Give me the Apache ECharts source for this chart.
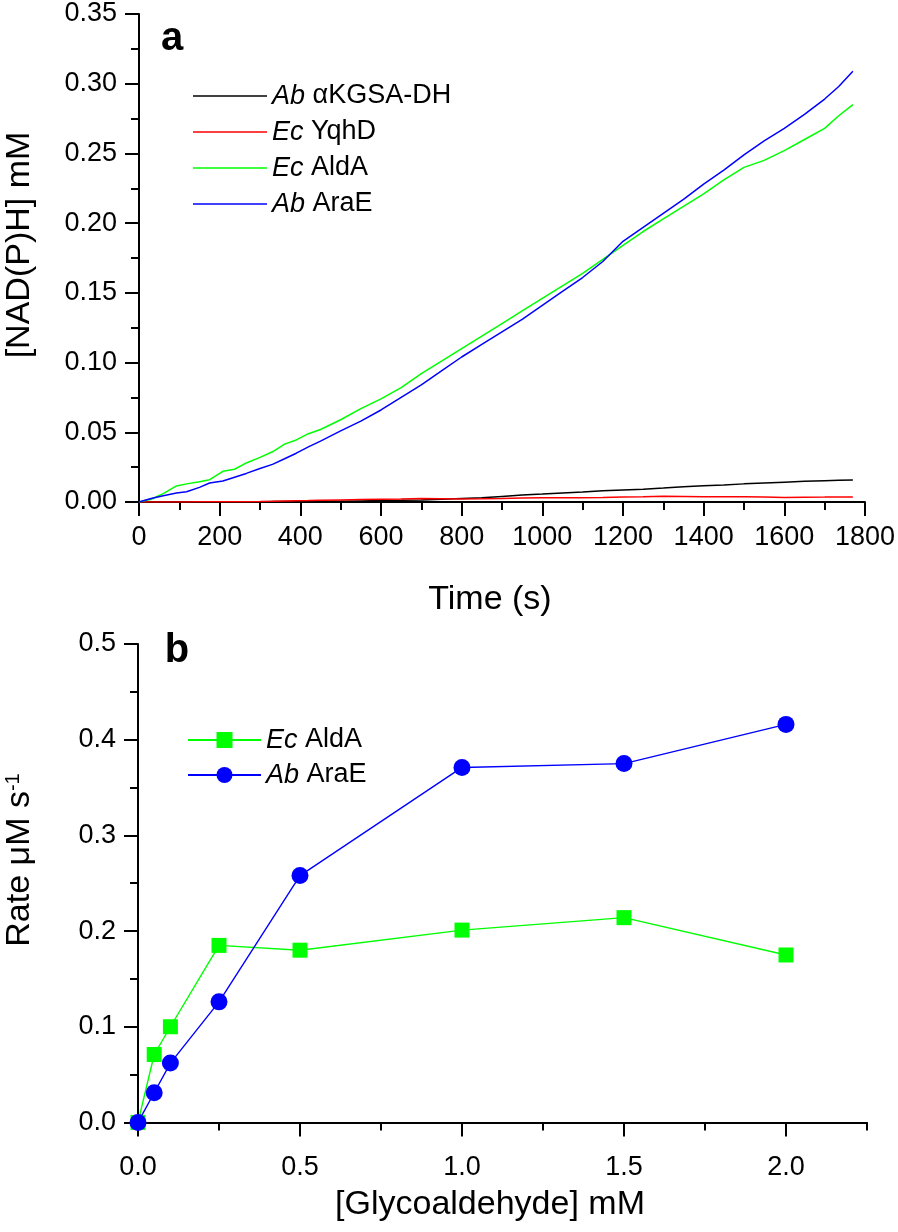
<!DOCTYPE html>
<html>
<head>
<meta charset="utf-8">
<script src="https://cdn.jsdelivr.net/npm/echarts@6/dist/echarts.min.js"></script>
<style>
html,body{margin:0;padding:0;background:#fff;}
#c{width:898px;height:1232px;}
</style>
</head>
<body>
<div id="c"></div>
<script>
// ---------- Panel a: time course ----------
const timeS = [0,30,60,93,118,150,175,208,237,266,300,331,361,390,420,450,500,550,600,650,700,750,800,850,900,950,1000,1050,1100,1150,1200,1250,1300,1350,1400,1450,1500,1550,1600,1650,1700,1735,1770];
const abKGSA = [0,0,0,0,0,0,0.0001,0.0001,0.0002,0.0002,0.0002,0.0003,0.0003,0.0004,0.0004,0.0005,0.0006,0.0008,0.001,0.0012,0.0015,0.002,0.0025,0.003,0.004,0.005,0.0057,0.0065,0.0072,0.008,0.0086,0.0092,0.010,0.011,0.0117,0.0122,0.013,0.0136,0.0142,0.0148,0.0153,0.0156,0.0158];
const ecYqhD = [0,0,0,0,0,0.0001,0.0001,0.0002,0.0002,0.0002,0.0003,0.0005,0.0007,0.0009,0.001,0.0012,0.0015,0.0018,0.002,0.0022,0.0025,0.0024,0.0022,0.0023,0.0025,0.0028,0.003,0.003,0.003,0.0032,0.0035,0.0038,0.0042,0.004,0.0038,0.0037,0.0037,0.0035,0.0033,0.0034,0.0035,0.0036,0.0035];
const ecAldA = [0,0.002,0.006,0.0115,0.013,0.0145,0.016,0.022,0.0235,0.028,0.032,0.036,0.0415,0.0445,0.049,0.052,0.059,0.067,0.074,0.082,0.092,0.101,0.110,0.119,0.128,0.137,0.146,0.155,0.164,0.174,0.184,0.194,0.203,0.212,0.221,0.231,0.240,0.245,0.252,0.260,0.268,0.277,0.285];
const abAraE = [0,0.0025,0.0045,0.0064,0.0073,0.0105,0.0136,0.015,0.0178,0.0205,0.024,0.027,0.031,0.035,0.0395,0.0437,0.051,0.058,0.066,0.075,0.084,0.094,0.104,0.113,0.122,0.131,0.141,0.151,0.161,0.1725,0.187,0.197,0.207,0.217,0.228,0.238,0.249,0.259,0.268,0.278,0.289,0.298,0.309];
const namesA = ['Ab αKGSA-DH','Ec YqhD','Ec AldA','Ab AraE'];
const colorsA = ['#000000','#ff0000','#00ff00','#0000ff'];

// ---------- Panel b: rate vs concentration ----------
const glyco = [0,0.05,0.1,0.25,0.5,1.0,1.5,2.0];
const rateAldA = [0,0.071,0.100,0.185,0.180,0.201,0.214,0.175];
const rateAraE = [0,0.031,0.062,0.126,0.258,0.371,0.375,0.416];
const namesB = ['Ec AldA ','Ab AraE '];

// tick labels
const xTicksB = [0,0.5,1.0,1.5,2.0];
const xMinorB = [0.25,0.75,1.25,1.75,2.25];
const yTicksB = [0,0.1,0.2,0.3,0.4,0.5];
const yMinorB = [0.05,0.15,0.25,0.35,0.45];

const FF = '"Liberation Sans", Arial, sans-serif';
const pairs = (xs, ys) => xs.map((x,i)=>[x, ys[i]]);
const legendFmt = name => { const n = name.trim(); const k = n.indexOf(' '); return '{i|' + n.slice(0,k) + '}' + n.slice(k); };

const axisCommon = {
  axisLine:{show:true,lineStyle:{color:'#000',width:2}},
  axisTick:{show:true,inside:false,length:14,lineStyle:{color:'#000',width:2}},
  axisLabel:{color:'#000',fontSize:27,fontFamily:FF,margin:22},
  splitLine:{show:false}
};

const chart = echarts.init(document.getElementById('c'));
chart.setOption({
  animation:false,
  backgroundColor:'#fff',
  grid:[
    {left:139, top:14, width:728, height:488},
    {left:138, top:644, width:729, height:488}
  ],
  xAxis:[
    Object.assign({}, axisCommon, {
      gridIndex:0, type:'value', min:0, max:1800, interval:200, position:'bottom',
      minorTick:{show:true, splitNumber:2, length:8, lineStyle:{color:'#000',width:2}},
      axisLabel:Object.assign({}, axisCommon.axisLabel, {showMaxLabel:true, showMinLabel:true, formatter:v=>String(Math.round(v))})
    }),
    Object.assign({}, axisCommon, {
      gridIndex:1, type:'value', min:0, max:2.25, position:'bottom',
      axisTick:Object.assign({}, axisCommon.axisTick, {customValues:xTicksB}),
      axisLabel:Object.assign({}, axisCommon.axisLabel, {customValues:xTicksB, formatter:v=>v.toFixed(1)})
    }),
    {
      gridIndex:1, type:'value', min:0, max:2.25, position:'bottom',
      axisLine:{show:false},
      axisTick:{show:true, length:8, customValues:xMinorB, lineStyle:{color:'#000',width:2}},
      axisLabel:{show:false}, splitLine:{show:false}
    }
  ],
  yAxis:[
    Object.assign({}, axisCommon, {
      gridIndex:0, type:'value', min:0, max:0.35, interval:0.05, position:'left',
      minorTick:{show:true, splitNumber:2, length:8, lineStyle:{color:'#000',width:2}},
      axisLabel:Object.assign({}, axisCommon.axisLabel, {formatter:v=>v.toFixed(2)})
    }),
    Object.assign({}, axisCommon, {
      gridIndex:1, type:'value', min:-0.01, max:0.5, position:'left',
      axisTick:Object.assign({}, axisCommon.axisTick, {customValues:yTicksB}),
      axisLabel:Object.assign({}, axisCommon.axisLabel, {customValues:yTicksB, formatter:v=>v.toFixed(1)})
    }),
    {
      gridIndex:1, type:'value', min:-0.01, max:0.5, position:'left',
      axisLine:{show:false},
      axisTick:{show:true, length:8, customValues:yMinorB, lineStyle:{color:'#000',width:2}},
      axisLabel:{show:false}, splitLine:{show:false}
    }
  ],
  legend:[
    {
      data:namesA, orient:'vertical', left:188, top:76, itemGap:6,
      icon:'rect', itemWidth:74, itemHeight:1.6,
      formatter:legendFmt,
      textStyle:{color:'#000', fontSize:27, fontFamily:FF, lineHeight:30,
        rich:{i:{fontStyle:'italic', fontSize:27, fontFamily:FF, color:'#000', lineHeight:30}}}
    },
    {
      data:namesB, orient:'vertical', left:182, top:720, itemGap:5,
      itemWidth:73, itemHeight:20,
      formatter:legendFmt,
      textStyle:{color:'#000', fontSize:27, fontFamily:FF, lineHeight:30,
        rich:{i:{fontStyle:'italic', fontSize:27, fontFamily:FF, color:'#000', lineHeight:30}}}
    }
  ],
  series:[
    {name:namesA[0], type:'line', xAxisIndex:0, yAxisIndex:0, data:pairs(timeS, abKGSA), showSymbol:false, symbol:'none', lineStyle:{color:colorsA[0], width:1.5}, itemStyle:{color:colorsA[0]}},
    {name:namesA[1], type:'line', xAxisIndex:0, yAxisIndex:0, data:pairs(timeS, ecYqhD), showSymbol:false, symbol:'none', lineStyle:{color:colorsA[1], width:1.5}, itemStyle:{color:colorsA[1]}},
    {name:namesA[2], type:'line', xAxisIndex:0, yAxisIndex:0, data:pairs(timeS, ecAldA), showSymbol:false, symbol:'none', lineStyle:{color:colorsA[2], width:1.5}, itemStyle:{color:colorsA[2]}},
    {name:namesA[3], type:'line', xAxisIndex:0, yAxisIndex:0, data:pairs(timeS, abAraE), showSymbol:false, symbol:'none', lineStyle:{color:colorsA[3], width:1.5}, itemStyle:{color:colorsA[3]}},
    {name:namesB[0], type:'line', xAxisIndex:1, yAxisIndex:1, data:pairs(glyco, rateAldA), symbol:'rect', symbolSize:15, lineStyle:{color:'#00ff00', width:1.4}, itemStyle:{color:'#00ff00'}},
    {name:namesB[1], type:'line', xAxisIndex:1, yAxisIndex:1, data:pairs(glyco, rateAraE), symbol:'circle', symbolSize:17, lineStyle:{color:'#0000ff', width:1.4}, itemStyle:{color:'#0000ff'}}
  ],
  graphic:[
    {type:'text', x:172, y:39, style:{text:'a', font:'bold 40px '+FF, fill:'#000', textAlign:'center', textVerticalAlign:'middle'}},
    {type:'text', x:177, y:651, style:{text:'b', font:'bold 40px '+FF, fill:'#000', textAlign:'center', textVerticalAlign:'middle'}},
    {type:'text', x:490, y:600, style:{text:'Time (s)', font:'34px '+FF, fill:'#000', textAlign:'center', textVerticalAlign:'middle'}},
    {type:'text', x:490, y:1205, style:{text:'[Glycoaldehyde] mM', font:'34px '+FF, fill:'#000', textAlign:'center', textVerticalAlign:'middle'}},
    {type:'text', x:20, y:245, rotation:Math.PI/2, style:{text:'[NAD(P)H] mM', font:'34px '+FF, fill:'#000', textAlign:'center', textVerticalAlign:'middle'}},
    {type:'text', x:20, y:860, rotation:Math.PI/2, style:{text:'Rate μM s{sup|-1}', font:'34px '+FF, fill:'#000', textAlign:'center', textVerticalAlign:'middle',
      rich:{sup:{fontSize:20, fontFamily:FF, verticalAlign:'top', lineHeight:34, fill:'#000'}}}}
  ]
});
</script>
</body>
</html>
